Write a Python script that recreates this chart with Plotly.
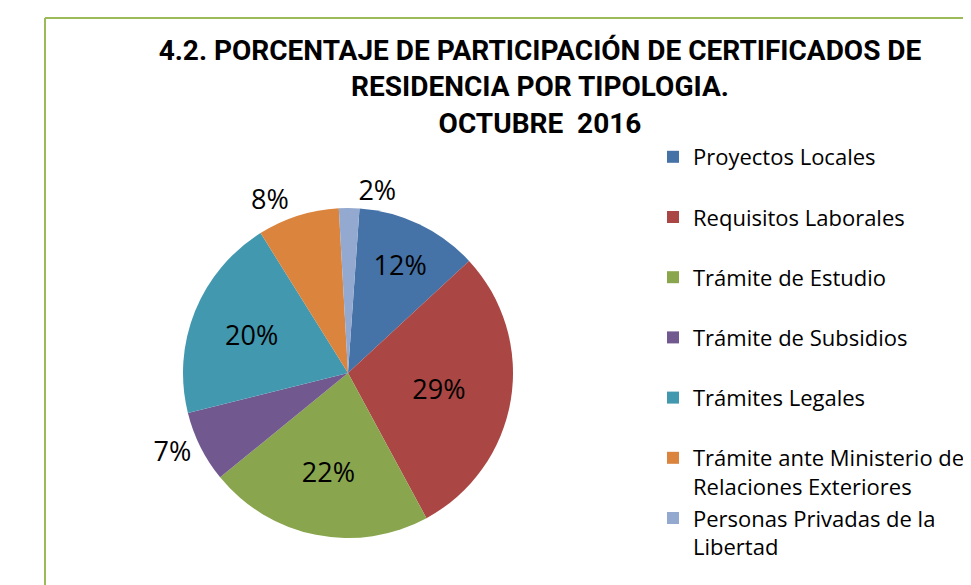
import plotly.graph_objects as go

categories = [
    "Proyectos Locales",
    "Requisitos Laborales",
    "Trámite de Estudio",
    "Trámite de Subsidios",
    "Trámites Legales",
    "Trámite ante Ministerio de Relaciones Exteriores",
    "Personas Privadas de la Libertad",
]
legend_labels = [
    "Proyectos Locales<br> ",
    "Requisitos Laborales<br> ",
    "Trámite de Estudio<br> ",
    "Trámite de Subsidios<br> ",
    "Trámites Legales<br> ",
    "Trámite ante Ministerio de<br>Relaciones Exteriores",
    "Personas Privadas de la<br>Libertad",
]
values = [12, 29, 22, 7, 20, 8, 2]
colors = ["#4572A7", "#AA4643", "#89A54E", "#71588F", "#4198AF", "#DB843D", "#93A9CF"]
text_positions = ["inside", "inside", "inside", "outside", "inside", "outside", "outside"]

title_text = ("4.2. PORCENTAJE DE PARTICIPACIÓN DE CERTIFICADOS DE<br>"
              "RESIDENCIA POR TIPOLOGIA.<br>OCTUBRE  2016")

W, H = 971, 585
cx, cy, r = 340, 365, 165

fig = go.Figure()
fig.add_trace(go.Pie(
    labels=legend_labels,
    values=values,
    customdata=categories,
    sort=False,
    direction="clockwise",
    rotation=4,
    marker=dict(colors=colors, line=dict(color="white", width=0)),
    textinfo="percent",
    textposition=text_positions,
    insidetextorientation="horizontal",
    textfont=dict(family="Open Sans", size=27, color="#000000"),
    insidetextfont=dict(family="Open Sans", size=27, color="#000000"),
    outsidetextfont=dict(family="Open Sans", size=27, color="#000000"),
    hovertemplate="%{customdata}: %{percent}<extra></extra>",
    domain=dict(x=[(cx - r) / W, (cx + r) / W], y=[1 - (cy + r) / H, 1 - (cy - r) / H]),
))

fig.update_layout(
    width=W, height=H,
    margin=dict(l=0, r=0, t=0, b=0, autoexpand=False),
    paper_bgcolor="white",
    plot_bgcolor="white",
    title=dict(
        text=title_text,
        x=532 / W, xanchor="center",
        y=1 - 52 / H, yanchor="top",
        font=dict(family="Roboto", size=28, color="#000000", weight="bold"),
    ),
    legend=dict(
        x=645 / W, xanchor="left",
        y=1 - 128 / H, yanchor="top",
        valign="top",
        font=dict(family="Open Sans", size=22, color="#000000"),
        bgcolor="rgba(0,0,0,0)",
        traceorder="normal",
    ),
    shapes=[
        dict(type="line", xref="paper", yref="paper",
             x0=37 / W, x1=1.02, y0=1 - 10 / H, y1=1 - 10 / H,
             line=dict(color="#9BBB59", width=2)),
        dict(type="line", xref="paper", yref="paper",
             x0=37 / W, x1=37 / W, y0=-0.02, y1=1 - 10 / H,
             line=dict(color="#9BBB59", width=2)),
    ],
)

fig.write_html("out.html")
